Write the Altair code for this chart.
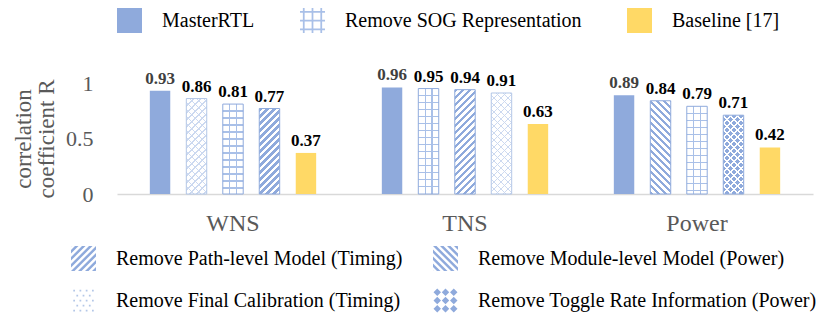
import altair as alt
import pandas as pd

# ---------------- data ----------------
metrics = ["WNS", "TNS", "Power"]
wns_series = ["MasterRTL", "Remove Final Calibration (Timing)", "Remove SOG Representation",
              "Remove Path-level Model (Timing)", "Baseline [17]"]
wns_values = [0.93, 0.86, 0.81, 0.77, 0.37]
tns_series = ["MasterRTL", "Remove SOG Representation", "Remove Path-level Model (Timing)",
              "Remove Final Calibration (Timing)", "Baseline [17]"]
tns_values = [0.96, 0.95, 0.94, 0.91, 0.63]
power_series = ["MasterRTL", "Remove Module-level Model (Power)", "Remove SOG Representation",
                "Remove Toggle Rate Information (Power)", "Baseline [17]"]
power_values = [0.89, 0.84, 0.79, 0.71, 0.42]
top_legend = ["MasterRTL", "Remove SOG Representation", "Baseline [17]"]
bottom_legend = ["Remove Path-level Model (Timing)", "Remove Module-level Model (Power)",
                 "Remove Final Calibration (Timing)", "Remove Toggle Rate Information (Power)"]
y_ticks = [0, 0.5, 1]
y_title = ["correlation", "coefficient R"]

rows = []
for m, sers, vals in zip(metrics, [wns_series, tns_series, power_series],
                         [wns_values, tns_values, power_values]):
    for slot, (s, v) in enumerate(zip(sers, vals)):
        rows.append({"bar_id": len(rows), "metric": m, "slot": slot, "series": s, "value": v})
df = pd.DataFrame(rows)

# ---------------- style ----------------
FONT = "Liberation Serif"
BLUE = "#8faadc"
GRIDC = "#a9c0e8"
LIGHT = "#ccd9f0"
YELLOW = "#ffd966"
GRAY = "#595959"
WHITE = "#ffffff"
CLEAR = "rgba(255,255,255,0)"
W, H = 696, 111
PI, PO = 0.44, 0.9
STEP = W / len(metrics) / (5 - PI + 2 * PO)
BW = STEP * (1 - PI)
PERIOD = 7.0


def stops_from_intervals(L, ivs, on, off):
    s = [(0.0, off)]
    for a, b in ivs:
        a = max(0.0, min(L, a)) / L
        b = max(0.0, min(L, b)) / L
        s += [(a, off), (a, on), (b, on), (b, off)]
    s.append((1.0, off))
    return [{"offset": round(o, 5), "color": c} for o, c in s]


def lin(x1, y1, x2, y2, stops):
    return {"gradient": "linear", "x1": x1, "y1": y1, "x2": x2, "y2": y2, "stops": stops}


def diag_grad(w, h, slash, on, off, frac):
    L = w + h
    ivs = [(k * PERIOD, k * PERIOD + frac * PERIOD) for k in range(int(L / PERIOD) + 2)]
    st = stops_from_intervals(L, ivs, on, off)
    r = h / w
    a = (1 + r) / (1 + r * r)
    b = a * r
    if slash:
        return lin(0, 0, round(a, 5), round(b, 5), st)
    return lin(0, 1, round(a, 5), round(1 - b, 5), st)


def vlines_grad(w, on, off):
    ivs = [(w * k / 3 - 0.6, w * k / 3 + 0.6) for k in (1, 2)]
    return lin(0, 0, 1, 0, stops_from_intervals(w, ivs, on, off))


def hlines_grad(h, on, off):
    ivs = []
    y = PERIOD
    while y < h - 2:
        ivs.append((y - 0.6, y + 0.6))
        y += PERIOD
    return lin(0, 0, 0, 1, stops_from_intervals(h, ivs, on, off))


# ---------------- legend symbol paths ([-1,1] box) ----------------
SQUARE = [(-1, -1), (1, -1), (1, 1), (-1, 1)]


def clip(poly, a, b, c):
    out = []
    n = len(poly)
    for i in range(n):
        P, Q = poly[i], poly[(i + 1) % n]
        fp = a * P[0] + b * P[1] - c
        fq = a * Q[0] + b * Q[1] - c
        if fp <= 0:
            out.append(P)
        if (fp < 0 < fq) or (fq < 0 < fp):
            t = fp / (fp - fq)
            out.append((P[0] + t * (Q[0] - P[0]), P[1] + t * (Q[1] - P[1])))
    return out


def to_path(polys):
    parts = []
    for p in polys:
        if len(p) >= 3:
            parts.append("M" + "L".join(f"{x:.3f},{y:.3f}" for x, y in p) + "Z")
    return "".join(parts)


def rect(x0, y0, x1, y1):
    return [(x0, y0), (x1, y0), (x1, y1), (x0, y1)]


def stripes_path(slash, period=0.56, frac=0.5):
    polys = []
    for k in range(-8, 8):
        c1 = k * period
        c2 = c1 + frac * period
        p = SQUARE
        if slash:
            p = clip(p, 1, 1, c2)
            p = clip(p, -1, -1, -c1)
        else:
            p = clip(p, 1, -1, c2)
            p = clip(p, -1, 1, -c1)
        polys.append(p)
    return to_path(polys)


solid_path = to_path([SQUARE])
grid_path = to_path([rect(c - 0.07, -1, c + 0.07, 1) for c in (-0.7, 0, 0.7)] +
                    [rect(-1, c - 0.07, 1, c + 0.07) for c in (-0.7, 0, 0.7)])
dots_path = to_path([rect(cx - 0.07, cy - 0.07, cx + 0.07, cy + 0.07)
                     for j, cy in enumerate((-0.8, -0.4, 0.0, 0.4, 0.8))
                     for cx in ((-0.75, -0.25, 0.25, 0.75) if j % 2 == 0 else (-0.5, 0.0, 0.5))])
toggle_path = to_path([[(cx, cy - 0.3), (cx + 0.3, cy), (cx, cy + 0.3), (cx - 0.3, cy)]
                       for cy in (-0.66, 0, 0.66) for cx in (-0.66, 0, 0.66)])

top_paths = [solid_path, grid_path, solid_path]
top_colors = [BLUE, GRIDC, YELLOW]
bottom_paths = [stripes_path(True), stripes_path(False), dots_path, toggle_path]
bottom_colors = [BLUE, BLUE, "#b4c7e7", BLUE]

# ---------------- encodings ----------------
X = alt.X("metric:N", sort=metrics, scale=alt.Scale(paddingInner=0, paddingOuter=0),
          axis=alt.Axis(title=None, labelAngle=0, ticks=False, domainColor="#d9d9d9",
                        domainWidth=1.5, labelFont=FONT, labelFontSize=24, labelColor=GRAY,
                        labelPadding=17))
XO = alt.XOffset("slot:O", scale=alt.Scale(paddingInner=PI, paddingOuter=PO))
Y = alt.Y("value:Q", scale=alt.Scale(domain=[0, 1], nice=False),
          axis=alt.Axis(values=y_ticks, format=".1~f", grid=False, domain=False, ticks=False,
                        labelFont=FONT, labelFontSize=22, labelColor=GRAY, labelPadding=24,
                        title=y_title, titleFont=FONT, titleFontSize=23,
                        titleFontWeight="normal", titleColor=GRAY, titleLineHeight=23,
                        titlePadding=7))


def bar_layer(i, **mark):
    return (alt.Chart(df).transform_filter(alt.datum.bar_id == i)
            .mark_bar(**mark).encode(x=X, xOffset=XO, y=Y))


layers = []
for r in rows:
    i, s, h = r["bar_id"], r["series"], r["value"] * H
    w = BW
    if s == "MasterRTL":
        layers.append(bar_layer(i, fill=BLUE))
    elif s == "Baseline [17]":
        layers.append(bar_layer(i, fill=YELLOW))
    elif s == "Remove SOG Representation":
        layers.append(bar_layer(i, fill=vlines_grad(w, GRIDC, WHITE)))
        layers.append(bar_layer(i, fill=hlines_grad(h, GRIDC, CLEAR), stroke=BLUE, strokeWidth=1))
    elif s == "Remove Path-level Model (Timing)":
        layers.append(bar_layer(i, fill=diag_grad(w, h, True, BLUE, WHITE, 0.5),
                                stroke=BLUE, strokeWidth=1))
    elif s == "Remove Module-level Model (Power)":
        layers.append(bar_layer(i, fill=diag_grad(w, h, False, BLUE, WHITE, 0.5),
                                stroke=BLUE, strokeWidth=1))
    elif s == "Remove Final Calibration (Timing)":
        layers.append(bar_layer(i, fill=diag_grad(w, h, True, LIGHT, WHITE, 0.22)))
        layers.append(bar_layer(i, fill=diag_grad(w, h, False, LIGHT, CLEAR, 0.22),
                                stroke="#b4c7e7", strokeWidth=1))
    elif s == "Remove Toggle Rate Information (Power)":
        layers.append(bar_layer(i, fill=diag_grad(w, h, True, WHITE, BLUE, 0.3)))
        layers.append(bar_layer(i, fill=diag_grad(w, h, False, WHITE, CLEAR, 0.3),
                                stroke=BLUE, strokeWidth=1))

text = alt.Chart(df).mark_text(font=FONT, fontSize=17, fontWeight="bold",
                               baseline="alphabetic", dy=-7).encode(
    x=X, xOffset=XO, y=Y,
    text=alt.Text("value:Q", format=".2f"),
    color=alt.condition(alt.datum.series == "MasterRTL", alt.value("#404040"), alt.value("#000000")),
)

common_leg = dict(title=None, orient="none", symbolSize=625, symbolStrokeWidth=0,
                  symbolOpacity=1, labelFont=FONT, labelFontSize=20, labelColor="#000000",
                  labelLimit=600, labelOffset=20, padding=0)
top_leg = alt.Legend(legendX=0, legendY=-75, direction="horizontal", columns=3,
                     columnPadding=45, **common_leg)
bot_leg = alt.Legend(legendX=-46, legendY=163, direction="horizontal", columns=2,
                     columnPadding=30, rowPadding=17, **common_leg)

top_pts = (alt.Chart(df)
           .transform_filter(alt.FieldOneOfPredicate(field="series", oneOf=top_legend))
           .mark_point(filled=True, opacity=0)
           .encode(x=X, xOffset=XO, y=Y,
                   shape=alt.Shape("series:N", scale=alt.Scale(domain=top_legend, range=top_paths),
                                   legend=top_leg),
                   fill=alt.Fill("series:N", scale=alt.Scale(domain=top_legend, range=top_colors),
                                 legend=top_leg)))
bot_pts = (alt.Chart(df)
           .transform_filter(alt.FieldOneOfPredicate(field="series", oneOf=bottom_legend))
           .mark_point(filled=True, opacity=0)
           .encode(x=X, xOffset=XO, y=Y,
                   shape=alt.Shape("series:N", scale=alt.Scale(domain=bottom_legend, range=bottom_paths),
                                   legend=bot_leg),
                   fill=alt.Fill("series:N", scale=alt.Scale(domain=bottom_legend, range=bottom_colors),
                                 legend=bot_leg)))

chart = (alt.layer(*layers, text, top_pts, bot_pts)
         .resolve_scale(shape="independent", fill="independent")
         .properties(width=W, height=H,
                     autosize=alt.AutoSizeParams(type="none"),
                     padding={"left": 109, "top": 75, "right": 10, "bottom": 119})
         .configure_view(stroke="transparent")
         .configure_legend(labelFont=FONT, labelFontSize=20, labelColor="#000000", labelLimit=600)
         .configure_text(font=FONT))

chart.save("out.html", embed_options={"renderer": "svg", "actions": False})
